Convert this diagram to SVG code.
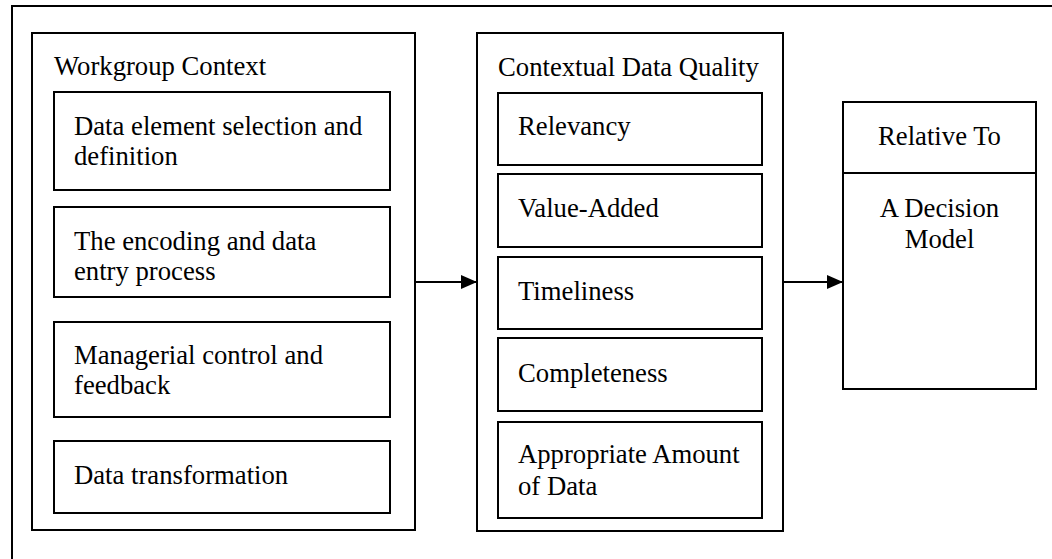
<svg xmlns="http://www.w3.org/2000/svg" width="1052" height="559" viewBox="0 0 1052 559">
<style>
.b{fill:#fff;stroke:#000;stroke-width:2}
.t{font-family:"Liberation Serif","Times New Roman",serif;font-size:26.7px;fill:#000}
.c{stroke:#000;stroke-width:2;fill:none}
</style>
<defs>
<marker id="ah" viewBox="0 0 16 14" refX="16" refY="7" markerWidth="16" markerHeight="14" markerUnits="userSpaceOnUse" orient="auto">
<path d="M0,0 L16,7 L0,14 Z" fill="#000"/>
</marker>
</defs>
<rect width="1052" height="559" fill="#fff"/>
<g id="frame">
<path class="c" d="M12,559 V6 H1052"/>
</g>
<g id="workgroup">
<rect class="b" x="32" y="33" width="383" height="497"/>
<text class="t" x="54" y="75">Workgroup Context</text>
</g>
<g id="wg1">
<rect class="b" x="54" y="92" width="336" height="98"/>
<text class="t" x="74" y="135">Data element selection and</text>
<text class="t" x="74" y="165">definition</text>
</g>
<g id="wg2">
<rect class="b" x="54" y="207" width="336" height="90"/>
<text class="t" x="74" y="250">The encoding and data</text>
<text class="t" x="74" y="280">entry process</text>
</g>
<g id="wg3">
<rect class="b" x="54" y="322" width="336" height="95"/>
<text class="t" x="74" y="364">Managerial control and</text>
<text class="t" x="74" y="394">feedback</text>
</g>
<g id="wg4">
<rect class="b" x="54" y="441" width="336" height="72"/>
<text class="t" x="74" y="484">Data transformation</text>
</g>
<g id="cdq">
<rect class="b" x="477" y="33" width="306" height="498"/>
<text class="t" x="498" y="76">Contextual Data Quality</text>
</g>
<g id="cdq1">
<rect class="b" x="498" y="93" width="264" height="72"/>
<text class="t" x="518" y="135">Relevancy</text>
</g>
<g id="cdq2">
<rect class="b" x="498" y="174" width="264" height="73"/>
<text class="t" x="518" y="217">Value-Added</text>
</g>
<g id="cdq3">
<rect class="b" x="498" y="257" width="264" height="72"/>
<text class="t" x="518" y="300">Timeliness</text>
</g>
<g id="cdq4">
<rect class="b" x="498" y="338" width="264" height="73"/>
<text class="t" x="518" y="382">Completeness</text>
</g>
<g id="cdq5">
<rect class="b" x="498" y="422" width="264" height="96"/>
<text class="t" x="518" y="463">Appropriate Amount</text>
<text class="t" x="518" y="495">of Data</text>
</g>
<g id="relative">
<rect class="b" x="843" y="102" width="193" height="287"/>
<line class="c" x1="843" y1="173" x2="1036" y2="173"/>
<text class="t" x="939.5" y="145" text-anchor="middle">Relative To</text>
<text class="t" x="939.5" y="217" text-anchor="middle">A Decision</text>
<text class="t" x="939.5" y="248" text-anchor="middle">Model</text>
</g>
<g id="connectors">
<line class="c" x1="415" y1="282" x2="477" y2="282" marker-end="url(#ah)"/>
<line class="c" x1="783" y1="282" x2="843" y2="282" marker-end="url(#ah)"/>
</g>
</svg>
